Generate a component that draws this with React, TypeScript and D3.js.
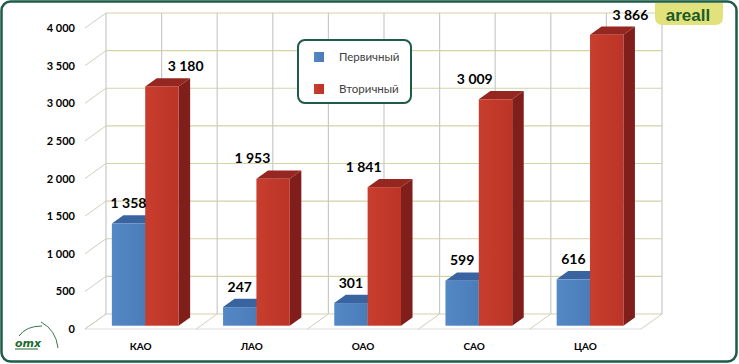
import React from "react";
import * as d3 from "d3";

const categories = ["КАО", "ЛАО", "ОАО", "САО", "ЦАО"];
const seriesNames = ["Первичный", "Вторичный"];
const primaryValues = [1358, 247, 301, 599, 616];
const secondaryValues = [3180, 1953, 1841, 3009, 3866];
const yTickValues = [0, 500, 1000, 1500, 2000, 2500, 3000, 3500, 4000];
// which side of the red bar its value label sits on (as in the source)
const secondaryLabelSide = ["right", "left", "left", "left", "right"];

const W = 739;
const H = 364;
const DX = 21;
const DY = 15;
const D0 = 0.22;
const D1 = 0.77;
const FONT = "Lato, 'DejaVu Sans', sans-serif";

const loc = d3.formatLocale({ thousands: " ", grouping: [3], decimal: ",", currency: ["", ""] });
const fmt = loc.format(",d");

const colors = {
  blueFront: "#4f81bd",
  blueTop: "#3a64a0",
  blueSide: "#2f5487",
  redFront: "#c0392b",
  redTop: "#952720",
  redSide: "#7f1e1a",
  frame: "#1d5c47",
  gridH: "#d3d3a8",
  gridV: "#c9c9c9",
  gridS: "#cfcfc0",
};

export default function App() {
  const x = d3.scaleBand<string>().domain(categories).range([85, 641]);
  const y = d3.scaleLinear().domain([0, 4000]).range([329, 28]);
  const bw = x.bandwidth();
  const xs = d3.scaleBand<string>().domain(seriesNames).range([bw * 0.2, bw * 0.8]);
  const proj = (px: number, v: number, d: number): [number, number] => [px + d * DX, y(v) - d * DY];
  const pts = (arr: [number, number][]) => arr.map((p) => p.join(",")).join(" ");

  const xLeft = x.range()[0];
  const xRight = x.range()[1];

  const vLines: number[] = [];
  categories.forEach((c) => {
    vLines.push(x(c)!);
    vLines.push(x(c)! + bw / 2);
  });
  vLines.push(xRight);

  const series = [
    { name: seriesNames[0], values: primaryValues, top: colors.blueTop, side: colors.blueSide, grad: "gb" },
    { name: seriesNames[1], values: secondaryValues, top: colors.redTop, side: colors.redSide, grad: "gr" },
  ];

  const bars: React.ReactNode[] = [];
  const labels: React.ReactNode[] = [];
  categories.forEach((c, i) => {
    series.forEach((s, si) => {
      const v = s.values[i];
      const xl = x(c)! + xs(s.name)!;
      const xr = xl + xs.bandwidth();
      const f0 = proj(xl, 0, D0);
      const f1 = proj(xr, v, D0);
      bars.push(
        <g key={`${c}-${s.name}`}>
          <polygon points={pts([proj(xr, 0, D0), proj(xr, v, D0), proj(xr, v, D1), proj(xr, 0, D1)])} fill={s.side} />
          <polygon points={pts([proj(xl, v, D0), proj(xr, v, D0), proj(xr, v, D1), proj(xl, v, D1)])} fill={s.top} />
          <rect x={f0[0]} y={f1[1]} width={f1[0] - f0[0]} height={f0[1] - f1[1]} fill={`url(#${s.grad})`} />
        </g>
      );
      const backTop = proj(xl, v, D1)[1];
      let lx = (f0[0] + f1[0]) / 2;
      if (si === 1) {
        lx = secondaryLabelSide[i] === "right" ? f1[0] + 7 : f0[0] - 4;
      }
      labels.push(
        <text key={`l-${c}-${s.name}`} x={lx} y={backTop - 7} textAnchor="middle"
          fontFamily={FONT} fontWeight="bold" fontSize={14} fill="#000">
          {fmt(v)}
        </text>
      );
    });
  });

  return (
    <svg width={W} height={H} style={{ position: "absolute", left: 0, top: 0, background: "#fff" }}>
      <defs>
        <linearGradient id="gb" x1="0" x2="1" y1="0" y2="0">
          <stop offset="0" stopColor="#5488c6" />
          <stop offset="1" stopColor="#4a7cb8" />
        </linearGradient>
        <linearGradient id="gr" x1="0" x2="1" y1="0" y2="0">
          <stop offset="0" stopColor="#c83e2e" />
          <stop offset="1" stopColor="#bb3427" />
        </linearGradient>
      </defs>
      <rect x={0} y={0} width={W} height={H} fill="#fff" />

      {yTickValues.map((t) => (
        <line key={`bh${t}`} x1={xLeft + DX} x2={xRight + DX} y1={y(t) - DY} y2={y(t) - DY} stroke={colors.gridH} strokeWidth={1.2} />
      ))}
      {vLines.map((vx, k) => (
        <line key={`bv${k}`} x1={vx + DX} x2={vx + DX} y1={y(4000) - DY} y2={y(0) - DY} stroke={colors.gridV} strokeWidth={1.2} />
      ))}
      {yTickValues.map((t) => (
        <line key={`ls${t}`} x1={xLeft} y1={y(t)} x2={xLeft + DX} y2={y(t) - DY} stroke={colors.gridS} strokeWidth={1} />
      ))}
      <line x1={xLeft} x2={xRight} y1={y(0)} y2={y(0)} stroke="#dcdcdc" strokeWidth={1} />
      {[...categories.map((c) => x(c)!), xRight].map((fx, k) => (
        <line key={`fl${k}`} x1={fx} y1={y(0)} x2={fx + DX} y2={y(0) - DY} stroke={colors.gridS} strokeWidth={1} />
      ))}

      {bars}
      {labels}

      {yTickValues.map((t) => (
        <text key={`yt${t}`} x={75} y={y(t) + 4} textAnchor="end" fontFamily={FONT}
          fontWeight="bold" fontSize={11} fill="#000">
          {fmt(t)}
        </text>
      ))}
      {categories.map((c) => (
        <text key={`c${c}`} x={x(c)! + bw / 2} y={350} textAnchor="middle" fontFamily={FONT}
          fontWeight="bold" fontSize={10} fill="#000">
          {c}
        </text>
      ))}

      <rect x={298} y={40} width={113} height={63} rx={7} fill="#fff" stroke={colors.frame} strokeWidth={2} />
      {series.map((s, k) => (
        <g key={`lg${k}`}>
          <rect x={314} y={52 + k * 32} width={10} height={10} fill={`url(#${s.grad})`} />
          <text x={339} y={61 + k * 32} fontFamily={FONT} fontSize={11.5} fill="#404040">
            {s.name}
          </text>
        </g>
      ))}

      <rect x={1.5} y={1.5} width={735} height={360} rx={9} fill="none" stroke={colors.frame} strokeWidth={2.5} />

      <path d="M655,3 H723 V17 Q723,25 715,25 H663 Q655,25 655,17 Z" fill="#e1e27b" />
      <text x={688} y={21} textAnchor="middle" fontFamily="Liberation Sans, Arial, sans-serif" fontWeight="bold"
        fontSize={17} fill="#1d5a28">
        areall
      </text>

      <g>
        <path d="M19,336 Q26,326 42,326" fill="none" stroke="#1d6a2f" strokeWidth={0.9} />
        <path d="M41,322 Q56,330 58,348" fill="none" stroke="#1d6a2f" strokeWidth={0.9} />
        <text x={15} y={347} fontFamily="DejaVu Sans, sans-serif" fontWeight="bold" fontStyle="italic" fontSize={11}
          fill="#1d6a2f">
          omx
        </text>
        <line x1={15} x2={38} y1={349} y2={349} stroke="#1d6a2f" strokeWidth={1} />
      </g>
    </svg>
  );
}
